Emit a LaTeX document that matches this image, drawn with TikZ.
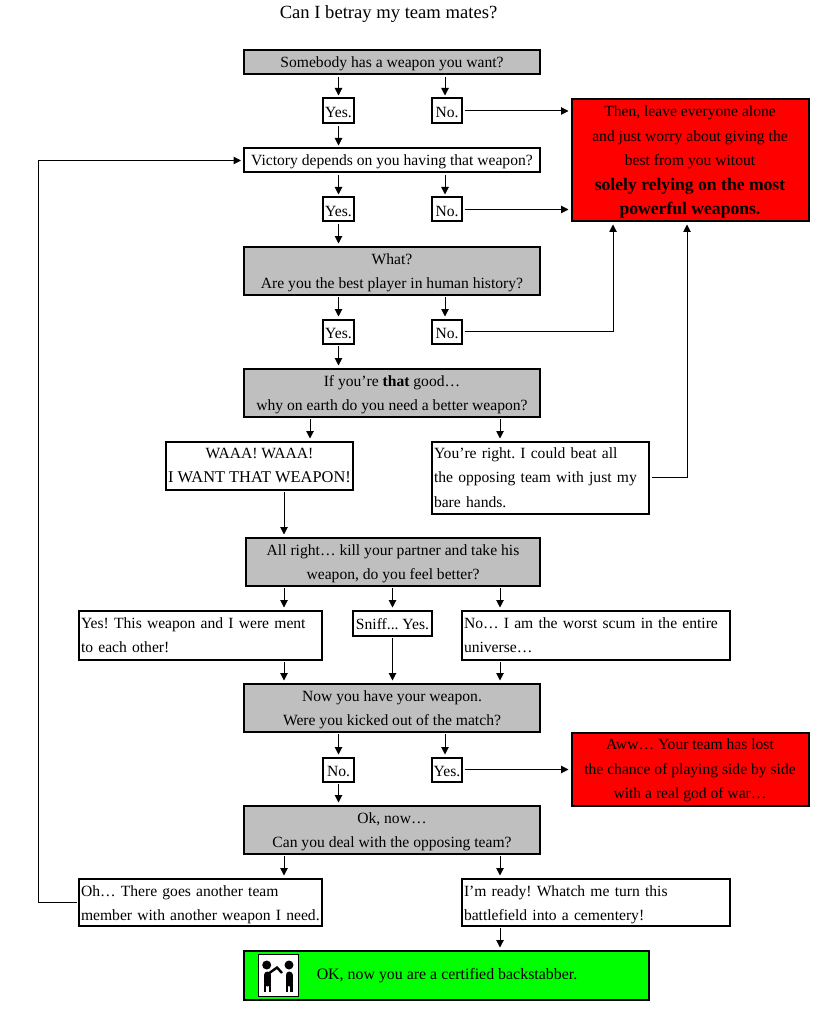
\documentclass[tikz,border=0pt]{standalone}
\usepackage{fontspec}
\setmainfont{Liberation Serif}
\usetikzlibrary{arrows.meta}
\newcommand{\wideb}[1]{{\fontsize{17.6}{24.5}\selectfont\textbf{#1}}}
\newcommand{\dropline}[1]{\rule{0pt}{#1}}
\tikzset{
	drop/.code={\def\boxdrop{#1}},
	basebox/.style={rectangle, draw=black, line width=2pt, inner sep=0pt, font=\fontsize{15.6}{24.5}\selectfont\frenchspacing, align=center, drop=13.5pt, execute at begin node={\rule{0pt}{\boxdrop}}},
	whitebox/.style={basebox, fill=white},
	greybox/.style={basebox, fill=black!25},
	redbox/.style={basebox, fill=red},
	greenbox/.style={basebox, fill=green},
	leftbox/.style={basebox, fill=white, align=left, inner xsep=2pt},
	arw/.style={-{Triangle[length=7.5pt,width=7.5pt]}, line width=1pt, shorten >=2pt, shorten <=1.5pt}
}
\begin{document}
\begin{tikzpicture}[x=1pt,y=-1pt]
	\useasboundingbox (0,0) rectangle (817,1024);
	\node[font=\fontsize{18.6}{20}\selectfont] (title) at (388.5,14) {Can I betray my team mates?};

	\node[greybox, minimum width=296pt, minimum height=24pt] (somebody) at (392,62.5) {Somebody has a weapon you want?};
	\node[whitebox, minimum width=31pt, minimum height=25pt] (yesa) at (338.5,111) {Yes.};
	\node[whitebox, minimum width=30pt, minimum height=25pt] (noa) at (447,111) {No.};
	\node[whitebox, minimum width=296pt, minimum height=24pt] (victory) at (392,160.5) {Victory depends on you having that weapon?};
	\node[whitebox, minimum width=31pt, minimum height=24pt] (yesb) at (338.5,209.5) {Yes.};
	\node[whitebox, minimum width=30pt, minimum height=24pt] (nob) at (447,209.5) {No.};
	\node[greybox, minimum width=296pt, minimum height=48pt] (what) at (392,270.5) {\dropline{15pt}What?\\Are you the best player in human history?};
	\node[whitebox, minimum width=31pt, minimum height=24pt] (yesc) at (338.5,331.5) {Yes.};
	\node[whitebox, minimum width=30pt, minimum height=24pt] (noc) at (447,331.5) {No.};
	\node[redbox, minimum width=237pt, minimum height=122pt] (leave) at (690,160.5) {\dropline{14.3pt}Then, leave everyone alone\\and just worry about giving the\\best from you witout\\\wideb{solely relying on the most}\\\wideb{powerful weapons.}};
	\node[greybox, minimum width=296pt, minimum height=48pt] (good) at (392,392.5) {\dropline{15pt}If you're \textbf{that} good\dots\\why on earth do you need a better weapon?};
	\node[whitebox, minimum width=187pt, minimum height=48pt] (waaa) at (259.5,465.5) {WAAA! WAAA!\\{\fontsize{16.4}{24.5}\selectfont I WANT THAT WEAPON!}};
	\node[leftbox, drop=0pt, text width=213pt, minimum height=72pt] (right) at (540.5,477.5) {You're right. I could beat all\\the opposing team with just my\\bare hands.};
	\node[greybox, minimum width=294pt, minimum height=48pt] (allright) at (393,561.5) {\dropline{15pt}All right\dots{} kill your partner and take his\\weapon, do you feel better?};
	\node[leftbox, drop=11.5pt, text width=239pt, minimum height=49pt] (ment) at (200.5,635) {Yes! This weapon and I were ment\\to each other!};
	\node[whitebox, minimum width=79pt, minimum height=25pt] (sniff) at (392.5,623) {Sniff... Yes.};
	\node[leftbox, drop=11.5pt, text width=264pt, minimum height=49pt] (scum) at (596,635) {No\dots{} I am the worst scum in the entire\\universe\dots};
	\node[greybox, minimum width=296pt, minimum height=48pt] (kicked) at (392,707.5) {\dropline{15pt}Now you have your weapon.\\Were you kicked out of the match?};
	\node[whitebox, minimum width=31pt, minimum height=24pt] (nod) at (338.5,769.5) {No.};
	\node[whitebox, minimum width=30pt, minimum height=24pt] (yesd) at (447,769.5) {Yes.};
	\node[redbox, minimum width=237pt, minimum height=73pt] (aww) at (690,769) {\dropline{13.5pt}Aww\dots{} Your team has lost\\the chance of playing side by side\\with a real god of war\dots};
	\node[greybox, minimum width=296pt, minimum height=48pt] (deal) at (392,829.5) {\dropline{15pt}Ok, now\dots\\Can you deal with the opposing team?};
	\node[leftbox, drop=16.5pt, text width=239pt, minimum height=47pt] (oh) at (200.5,902) {Oh\dots{} There goes another team\\member with another weapon I need.};
	\node[leftbox, drop=16.5pt, text width=264pt, minimum height=47pt] (ready) at (596,902) {I'm ready! Whatch me turn this\\battlefield into a cementery!};
	\node[greenbox, minimum width=405pt, minimum height=49pt] (certified) at (446.5,975) {};
	\node[font=\fontsize{15.9}{24}\selectfont] (ok) at (447,975.5) {OK, now you are a certified backstabber.};

	\node[rectangle, draw=black, line width=0.7pt, fill=white, minimum width=40.5pt, minimum height=42pt] (icon) at (278.5,975.5) {};
	\fill (266.7,965) circle (4.5pt);
	\fill (289,965) circle (4.5pt);
	\draw[line width=7pt, line cap=round] (267.5,975) -- (267.5,983);
	\draw[line width=7pt, line cap=round] (289,975) -- (289,983);
	\draw[line width=2.2pt] (265,984) -- (265,992) (270,984) -- (270,992) (287,984) -- (287,992) (291.5,984) -- (291.5,992);
	\draw[line width=2.4pt] (268,974) -- (277,967.5) -- (282,973);

	\coordinate (cornerc) at (613,331.5);
	\coordinate (cornerr) at (687,477);
	\coordinate (cornerl) at (38,902);
	\coordinate (cornerv) at (38,160.5);

	\draw[arw] (somebody.south -| yesa) -- (yesa.north);
	\draw[arw] (somebody.south -| 445,0) -- (445,0 |- noa.north);
	\draw[arw] (yesa.south) -- (victory.north -| yesa);
	\draw[arw] (victory.south -| yesb) -- (yesb.north);
	\draw[arw] (victory.south -| 445,0) -- (445,0 |- nob.north);
	\draw[arw] (yesb.south) -- (what.north -| yesb);
	\draw[arw] (what.south -| yesc) -- (yesc.north);
	\draw[arw] (what.south -| 445,0) -- (445,0 |- noc.north);
	\draw[arw] (yesc.south) -- (good.north -| yesc);
	\draw[arw] (noa.east) -- (leave.west |- noa);
	\draw[arw] (nob.east) -- (leave.west |- nob);
	\draw[arw] (noc.east) -- (cornerc) -- (cornerc |- leave.south);
	\draw[arw] (right.east |- cornerr) -- (cornerr) -- (cornerr |- leave.south);
	\draw[arw] (good.south -| 310,0) -- (310,0 |- waaa.north);
	\draw[arw] (good.south -| 500,0) -- (500,0 |- right.north);
	\draw[arw] (waaa.south -| 284,0) -- (284,0 |- allright.north);
	\draw[arw] (allright.south -| 284,0) -- (284,0 |- ment.north);
	\draw[arw] (allright.south -| sniff) -- (sniff.north);
	\draw[arw] (allright.south -| 500,0) -- (500,0 |- scum.north);
	\draw[arw] (ment.south -| 284,0) -- (284,0 |- kicked.north);
	\draw[arw] (sniff.south) -- (kicked.north -| sniff);
	\draw[arw] (scum.south -| 500,0) -- (500,0 |- kicked.north);
	\draw[arw] (kicked.south -| nod) -- (nod.north);
	\draw[arw] (kicked.south -| 445,0) -- (445,0 |- yesd.north);
	\draw[arw] (yesd.east) -- (aww.west |- yesd);
	\draw[arw] (nod.south) -- (deal.north -| nod);
	\draw[arw] (deal.south -| 284,0) -- (284,0 |- oh.north);
	\draw[arw] (deal.south -| 500,0) -- (500,0 |- ready.north);
	\draw[arw] (ready.south -| 500,0) -- (500,0 |- certified.north);
	\draw[arw] (oh.west) -- (cornerl) -- (cornerv) -- (victory.west);
\end{tikzpicture}
\end{document}
